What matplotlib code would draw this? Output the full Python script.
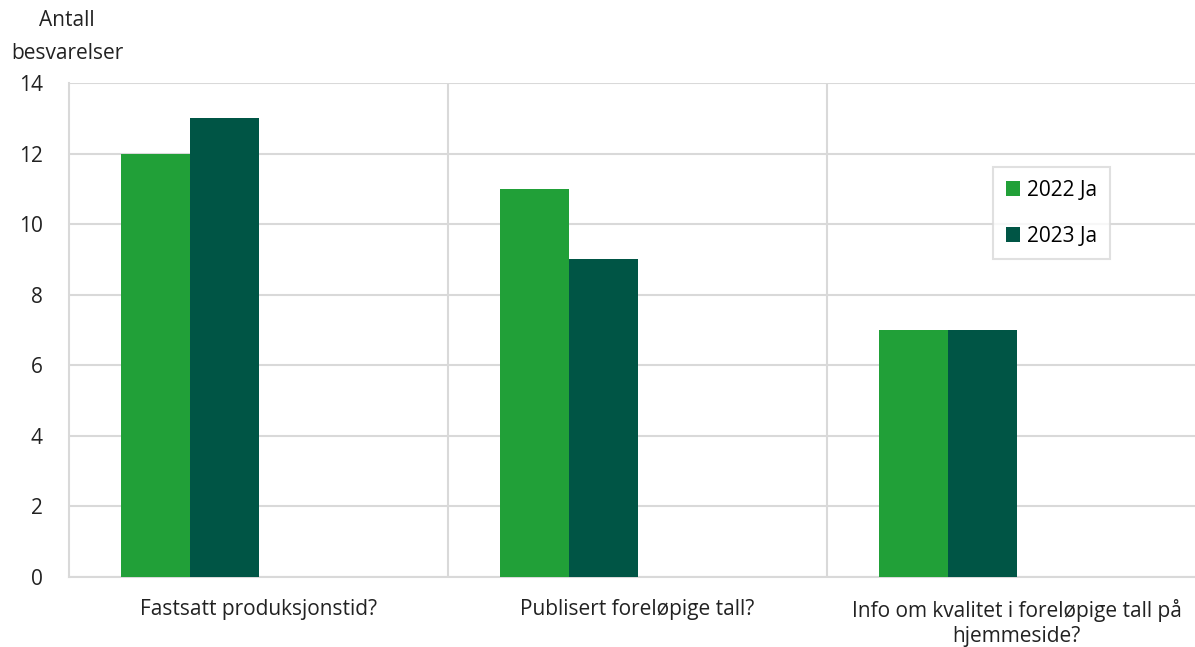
import numpy as np
import matplotlib.pyplot as plt

plt.rcParams['font.family'] = ['Open Sans', 'DejaVu Sans']

categories = ["Fastsatt produksjonstid?", "Publisert foreløpige tall?",
              "Info om kvalitet i foreløpige tall på\nhjemmeside?"]
series_names = ["2022 Ja", "2023 Ja"]
values_2022 = [12, 11, 7]
values_2023 = [13, 9, 7]
colors = ["#21A038", "#005545"]
grid_color = "#d9d9d9"
fs = 15

fig = plt.figure(figsize=(11.95, 6.47), dpi=100)
ax = fig.add_axes([69 / 1195, 70 / 647, (1206 - 69) / 1195, 494 / 647])

x = np.arange(len(categories))
w = 0.182
ax.bar(x - 1.5 * w, values_2022, w, color=colors[0], label=series_names[0], zorder=3)
ax.bar(x - 0.5 * w, values_2023, w, color=colors[1], label=series_names[1], zorder=3)

ax.set_xlim(-0.5, 2.5)
ax.set_ylim(0, 14)
ax.set_yticks(range(0, 15, 2))
ax.set_xticks(x)
ax.set_xticklabels(categories, fontsize=fs, color="#222222", linespacing=1.25)
ax.tick_params(axis='y', labelsize=fs, colors="#222222", length=0, pad=19)
ax.tick_params(axis='x', length=0, pad=16)

ax.grid(axis='y', color=grid_color, linewidth=1.5, zorder=0)
for b in [0.5, 1.5]:
    ax.axvline(b, color=grid_color, linewidth=1.5, zorder=0)
for s in ['top', 'right']:
    ax.spines[s].set_visible(False)
for s in ['left', 'bottom']:
    ax.spines[s].set_color(grid_color)
    ax.spines[s].set_linewidth(1.5)

leg = ax.legend(loc='upper left', bbox_to_anchor=((993 - 69) / 1137, (577 - 167) / 494),
                fontsize=fs, frameon=True, fancybox=False, handlelength=0.7,
                handleheight=0.7, labelspacing=1.2, borderpad=0.6, handletextpad=0.35,
                borderaxespad=0)
leg.get_frame().set_edgecolor(grid_color)
leg.get_frame().set_linewidth(1.5)

fig.text(67 / 1195, 1 - 37 / 647, "Antall\nbesvarelser", ha='center', va='center',
         fontsize=fs, color="#222222", linespacing=1.75)

fig.savefig("out.png", dpi=100)
